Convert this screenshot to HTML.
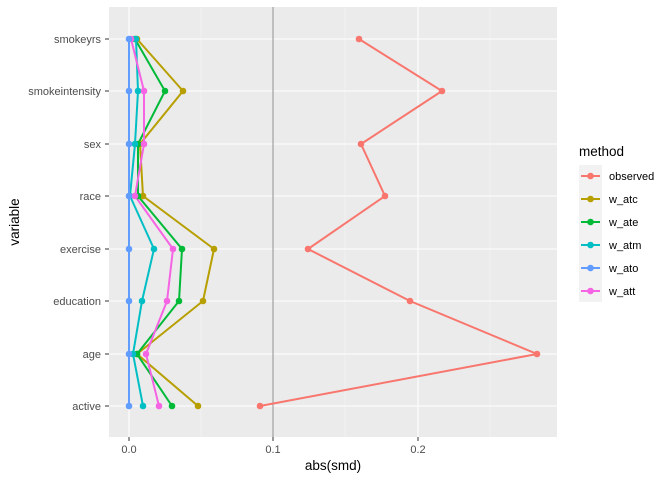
<!DOCTYPE html><html><head><style>body{margin:0;background:#fff}svg{display:block;font-family:"Liberation Sans",Arial,sans-serif}</style></head><body>
<svg width="672" height="480" viewBox="0 0 672 480">
<rect x="109" y="7" width="448" height="430" fill="#ebebeb"/>
<g stroke="#f5f5f5" stroke-width="0.6"><line x1="201" y1="7" x2="201" y2="437"/><line x1="345" y1="7" x2="345" y2="437"/><line x1="490" y1="7" x2="490" y2="437"/></g>
<g stroke="#fff" stroke-width="1.1"><line x1="129" y1="7" x2="129" y2="437"/><line x1="273" y1="7" x2="273" y2="437"/><line x1="418" y1="7" x2="418" y2="437"/>
<line x1="109" y1="39" x2="557" y2="39"/><line x1="109" y1="91" x2="557" y2="91"/><line x1="109" y1="144" x2="557" y2="144"/><line x1="109" y1="196" x2="557" y2="196"/><line x1="109" y1="249" x2="557" y2="249"/><line x1="109" y1="301" x2="557" y2="301"/><line x1="109" y1="354" x2="557" y2="354"/><line x1="109" y1="406" x2="557" y2="406"/></g>
<line x1="273" y1="7" x2="273" y2="437" stroke="#a0a0a0" stroke-width="1.2"/>
<g fill="none" stroke-width="2">
<polyline stroke="#F8766D" points="359,39 442,91 361,144 385,196 308,249 410,301 537,354 260,406"/>
<polyline stroke="#B79F00" points="137,39 183,91 140,144 143,196 214,249 203,301 137,354 198,406"/>
<polyline stroke="#00BA38" points="135,39 165,91 138,144 138,196 182,249 179,301 137,354 172,406"/>
<polyline stroke="#00BFC4" points="136,39 138,91 135,144 130,196 154,249 142,301 133,354 143,406"/>
<polyline stroke="#F564E3" points="131,39 144,91 144,144 135,196 173,249 167,301 146,354 159,406"/>
<polyline stroke="#619CFF" points="129,39 129,91 129,144 129,196 129,249 129,301 129,354 129,406"/>
</g>
<g fill="#F8766D"><circle cx="359" cy="39" r="3.3"/><circle cx="442" cy="91" r="3.3"/><circle cx="361" cy="144" r="3.3"/><circle cx="385" cy="196" r="3.3"/><circle cx="308" cy="249" r="3.3"/><circle cx="410" cy="301" r="3.3"/><circle cx="537" cy="354" r="3.3"/><circle cx="260" cy="406" r="3.3"/></g>
<g fill="#B79F00"><circle cx="137" cy="39" r="3.3"/><circle cx="183" cy="91" r="3.3"/><circle cx="140" cy="144" r="3.3"/><circle cx="143" cy="196" r="3.3"/><circle cx="214" cy="249" r="3.3"/><circle cx="203" cy="301" r="3.3"/><circle cx="137" cy="354" r="3.3"/><circle cx="198" cy="406" r="3.3"/></g>
<g fill="#00BA38"><circle cx="135" cy="39" r="3.3"/><circle cx="165" cy="91" r="3.3"/><circle cx="138" cy="144" r="3.3"/><circle cx="138" cy="196" r="3.3"/><circle cx="182" cy="249" r="3.3"/><circle cx="179" cy="301" r="3.3"/><circle cx="137" cy="354" r="3.3"/><circle cx="172" cy="406" r="3.3"/></g>
<g fill="#00BFC4"><circle cx="136" cy="39" r="3.3"/><circle cx="138" cy="91" r="3.3"/><circle cx="135" cy="144" r="3.3"/><circle cx="130" cy="196" r="3.3"/><circle cx="154" cy="249" r="3.3"/><circle cx="142" cy="301" r="3.3"/><circle cx="133" cy="354" r="3.3"/><circle cx="143" cy="406" r="3.3"/></g>
<g fill="#F564E3"><circle cx="131" cy="39" r="3.3"/><circle cx="144" cy="91" r="3.3"/><circle cx="144" cy="144" r="3.3"/><circle cx="135" cy="196" r="3.3"/><circle cx="173" cy="249" r="3.3"/><circle cx="167" cy="301" r="3.3"/><circle cx="146" cy="354" r="3.3"/><circle cx="159" cy="406" r="3.3"/></g>
<g fill="#619CFF"><circle cx="129" cy="39" r="3.3"/><circle cx="129" cy="91" r="3.3"/><circle cx="129" cy="144" r="3.3"/><circle cx="129" cy="196" r="3.3"/><circle cx="129" cy="249" r="3.3"/><circle cx="129" cy="301" r="3.3"/><circle cx="129" cy="354" r="3.3"/><circle cx="129" cy="406" r="3.3"/></g>
<g font-size="11" fill="#4d4d4d" text-anchor="end">
<text x="101" y="43">smokeyrs</text><text x="101" y="95">smokeintensity</text><text x="101" y="148">sex</text><text x="101" y="200">race</text><text x="101" y="253">exercise</text><text x="101" y="305">education</text><text x="101" y="358">age</text><text x="101" y="410">active</text></g>
<g stroke="#333" stroke-width="1"><line x1="105" y1="39" x2="109" y2="39"/><line x1="105" y1="91" x2="109" y2="91"/><line x1="105" y1="144" x2="109" y2="144"/><line x1="105" y1="196" x2="109" y2="196"/><line x1="105" y1="249" x2="109" y2="249"/><line x1="105" y1="301" x2="109" y2="301"/><line x1="105" y1="354" x2="109" y2="354"/><line x1="105" y1="406" x2="109" y2="406"/>
<line x1="129" y1="437" x2="129" y2="441"/><line x1="273" y1="437" x2="273" y2="441"/><line x1="418" y1="437" x2="418" y2="441"/></g>
<g font-size="11" fill="#4d4d4d" text-anchor="middle"><text x="129" y="453">0.0</text><text x="273" y="453">0.1</text><text x="418" y="453">0.2</text></g>
<text x="333" y="470" font-size="13.5" text-anchor="middle">abs(smd)</text>
<text transform="translate(19,222) rotate(-90)" font-size="13.5" text-anchor="middle">variable</text>
<text x="579" y="156" font-size="13.5">method</text>
<rect x="579" y="165" width="23" height="137" fill="#f2f2f2"/>
<g stroke-width="2"><line x1="581" y1="176" x2="600" y2="176" stroke="#F8766D"/><line x1="581" y1="199" x2="600" y2="199" stroke="#B79F00"/><line x1="581" y1="222" x2="600" y2="222" stroke="#00BA38"/><line x1="581" y1="245" x2="600" y2="245" stroke="#00BFC4"/><line x1="581" y1="268" x2="600" y2="268" stroke="#619CFF"/><line x1="581" y1="291" x2="600" y2="291" stroke="#F564E3"/></g>
<circle cx="590.5" cy="176" r="3.3" fill="#F8766D"/><circle cx="590.5" cy="199" r="3.3" fill="#B79F00"/><circle cx="590.5" cy="222" r="3.3" fill="#00BA38"/><circle cx="590.5" cy="245" r="3.3" fill="#00BFC4"/><circle cx="590.5" cy="268" r="3.3" fill="#619CFF"/><circle cx="590.5" cy="291" r="3.3" fill="#F564E3"/>
<g font-size="11" fill="#000"><text x="609" y="180">observed</text><text x="609" y="203">w_atc</text><text x="609" y="226">w_ate</text><text x="609" y="249">w_atm</text><text x="609" y="272">w_ato</text><text x="609" y="295">w_att</text></g>
</svg></body></html>
